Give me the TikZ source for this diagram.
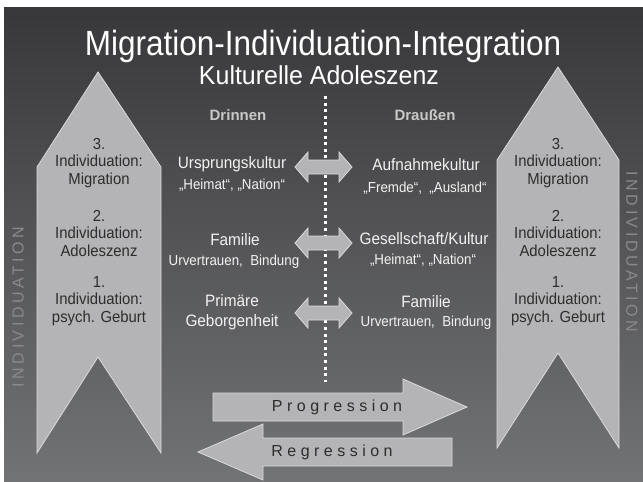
\documentclass[tikz,border=0pt]{standalone}
\usepackage{fontspec}
\setmainfont{Liberation Sans}
\newfontfamily\spaced[LetterSpace=28]{Liberation Sans}
\newfontfamily\vspaced[LetterSpace=22]{Liberation Sans}
\usepackage{graphicx}
\definecolor{bgtop}{RGB}{56,56,58}
\definecolor{bgbot}{RGB}{114,115,117}
\definecolor{chevfill}{RGB}{180,180,182}
\definecolor{chevline}{RGB}{218,218,220}
\definecolor{darktext}{RGB}{45,45,45}
\definecolor{midtext}{RGB}{242,242,242}
\definecolor{headtext}{RGB}{200,200,200}
\definecolor{vtext}{RGB}{138,138,140}
\newcommand\sqz[2]{\scalebox{#1}[1]{#2}}
\begin{document}
\begin{tikzpicture}[x=1pt,y=-1pt,
  shapebox/.style={fill=chevfill, draw=chevline, line width=0.8pt, line join=miter},
  chevtext/.style={text=darktext, font=\fontsize{16}{17.5}\selectfont, align=center, inner sep=0},
  maintext/.style={text=midtext, font=\fontsize{16.5}{18}\selectfont, inner sep=0},
  subtext/.style={text=midtext, font=\fontsize{14.5}{16}\selectfont, inner sep=0},
  headlbl/.style={text=headtext, font=\bfseries\fontsize{15}{17}\selectfont, inner sep=0},
  arrowlbl/.style={text=darktext, font=\spaced\fontsize{16}{18}\selectfont, inner sep=0},
  vlbl/.style={text=vtext, font=\vspaced\fontsize{16}{18}\selectfont, inner sep=0},
  pics/dblarrow/.style={code={
    \draw[shapebox] (-28.5,0) -- (-15.5,-15) -- (-15.5,-7) -- (15.5,-7) -- (15.5,-15)
      -- (28.5,0) -- (15.5,15) -- (15.5,7) -- (-15.5,7) -- (-15.5,15) -- cycle;}}
]
\useasboundingbox (0,0) rectangle (643,482);
% background
\fill[white] (0,0) rectangle (643,482);
\shade[top color=bgtop, bottom color=bgbot] (4,7) rectangle (643,482);

% titles
\node[text=white, font=\fontsize{35}{40}\selectfont, anchor=base, inner sep=0] (title) at (323,55)
  {\sqz{0.9}{Migration-Individuation-Integration}};
\node[text=white, font=\fontsize{26}{28}\selectfont, anchor=base, inner sep=0] (subtitle) at (319,84)
  {\sqz{0.96}{Kulturelle Adoleszenz}};

% chevrons
\draw[shapebox] (37,167) -- (98,72) -- (161,167) -- (161,453) -- (98,357) -- (37,453) -- cycle;
\draw[shapebox] (497,160) -- (558,67) -- (619,160) -- (619,448) -- (558,353) -- (497,448) -- cycle;

\node[chevtext] (l3) at (99,163) {\sqz{.93}{3.}\\\sqz{.93}{Individuation:}\\\sqz{.93}{Migration}};
\node[chevtext] (l2) at (99,233) {\sqz{.93}{2.}\\\sqz{.93}{Individuation:}\\\sqz{.93}{Adoleszenz}};
\node[chevtext] (l1) at (99,301) {\sqz{.93}{1.}\\\sqz{.93}{Individuation:}\\\sqz{.93}{psych. Geburt}};
\node[chevtext] (r3) at (558,163) {\sqz{.93}{3.}\\\sqz{.93}{Individuation:}\\\sqz{.93}{Migration}};
\node[chevtext] (r2) at (558,233) {\sqz{.93}{2.}\\\sqz{.93}{Individuation:}\\\sqz{.93}{Adoleszenz}};
\node[chevtext] (r1) at (558,301) {\sqz{.93}{1.}\\\sqz{.93}{Individuation:}\\\sqz{.93}{psych. Geburt}};

% vertical labels
\node[vlbl, rotate=90] (vleft) at (18,307) {INDIVIDUATION};
\node[vlbl, rotate=-90] (vright) at (632,252) {INDIVIDUATION};

% column heads
\node[headlbl] (drin) at (238,115) {Drinnen};
\node[headlbl] (draus) at (425,115) {Draußen};

% dotted divider
\coordinate (dtop) at (325,96);
\coordinate (dbot) at (325,382);
\draw[white, line width=3pt, dash pattern=on 3pt off 3.6pt] (dtop) -- (dbot);

% double arrows
\pic at (323.5,167) {dblarrow};
\pic at (323.5,243) {dblarrow};
\pic at (323.5,313) {dblarrow};

% left column
\node[maintext] (ursp) at (232,164) {\sqz{.93}{Ursprungskultur}};
\node[subtext] (ursps) at (232,185) {\sqz{.92}{„Heimat“,~„Nation“}};
\node[maintext] (fam1) at (235,240) {\sqz{.93}{Familie}};
\node[subtext] (fam1s) at (234,262) {\sqz{.92}{Urvertrauen,~ Bindung}};
\node[maintext, align=center, font=\fontsize{16.5}{20}\selectfont] (prim) at (232,312) {\sqz{.93}{Primäre}\\\sqz{.93}{Geborgenheit}};

% right column
\node[maintext] (aufn) at (426,165) {\sqz{.93}{Aufnahmekultur}};
\node[subtext] (aufns) at (425,188) {\sqz{.92}{„Fremde“,~ „Ausland“}};
\node[maintext] (ges) at (424,239) {\sqz{.93}{Gesellschaft/Kultur}};
\node[subtext] (gess) at (423,260) {\sqz{.92}{„Heimat“,~„Nation“}};
\node[maintext] (fam2) at (426,302) {\sqz{.93}{Familie}};
\node[subtext] (fam2s) at (426,323) {\sqz{.92}{Urvertrauen,~ Bindung}};

% progression / regression
\draw[shapebox] (213,393) -- (403,393) -- (403,379) -- (467,407) -- (403,435) -- (403,421) -- (213,421) -- cycle;
\node[arrowlbl] (prog) at (337,407) {Progression};
\draw[shapebox] (452,438) -- (263,438) -- (263,424) -- (198,452) -- (263,480) -- (263,466) -- (452,466) -- cycle;
\node[arrowlbl] (regr) at (332,452) {Regression};
\end{tikzpicture}
\end{document}
